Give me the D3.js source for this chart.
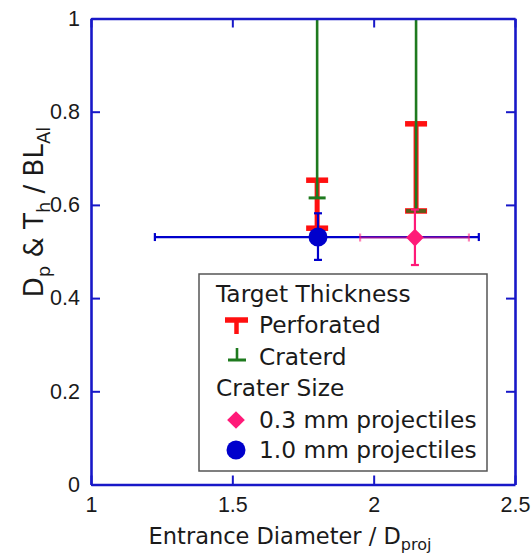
<!DOCTYPE html>
<html>
<head>
<meta charset="utf-8">
<script src="https://cdn.jsdelivr.net/npm/d3@7"></script>
<style>
  html, body { margin: 0; padding: 0; background: #fff; }
  svg { display: block; }
</style>
</head>
<body>
<svg id="chart" width="532" height="553"></svg>
<script>
// ---- data ----
const xTicks = [1, 1.5, 2, 2.5];
const yTicks = [0, 0.2, 0.4, 0.6, 0.8, 1];

// Target thickness: perforated ranges
const perfX = [1.80, 2.15];
const perfLow = [0.550, 0.587];
const perfHigh = [0.653, 0.774];

// Target thickness: cratered (lower bound, open upward)
const cratX = [1.80, 2.15];
const cratLow = [0.615, 0.587];
const cratHigh = [1.0, 1.0];

// Crater size points
const sizeNames = ["0.3 mm projectiles", "1.0 mm projectiles"];
const sizeX = [2.146, 1.803];
const sizeY = [0.530, 0.531];
const sizeXLow = [1.952, 1.226];
const sizeXHigh = [2.337, 2.372];
const sizeYLow = [0.471, 0.482];
const sizeYHigh = [0.590, 0.582];

// ---- setup ----
const svg = d3.select("#chart");
const m = {left: 91, right: 515, top: 18.5, bottom: 484.5};
const x = d3.scaleLinear().domain([1, 2.5]).range([m.left, m.right]);
const y = d3.scaleLinear().domain([0, 1]).range([m.bottom, m.top]);

const AXIS = "#1818c8";
const RED = "#ff1010";
const GREEN = "#1e7a1e";
const PINK = "#ff1a78";
const BLUE = "#0000cc";
const tickFont = "'Liberation Sans', Arial, sans-serif";
const textFont = "'DejaVu Sans', sans-serif";

const plot = svg.append("g");

// ---- perforated (red) ----
const perf = perfX.map((v, i) => ({x: v, lo: perfLow[i], hi: perfHigh[i]}));
plot.selectAll(".perf-line").data(perf).join("line")
  .attr("x1", d => x(d.x)).attr("x2", d => x(d.x))
  .attr("y1", d => y(d.lo)).attr("y2", d => y(d.hi))
  .attr("stroke", RED).attr("stroke-width", 5);
perf.forEach(d => {
  [d.lo, d.hi].forEach(v => {
    plot.append("line")
      .attr("x1", x(d.x) - 11).attr("x2", x(d.x) + 11)
      .attr("y1", y(v)).attr("y2", y(v))
      .attr("stroke", RED).attr("stroke-width", 5.5);
  });
});

// ---- cratered (green) ----
const crat = cratX.map((v, i) => ({x: v, lo: cratLow[i], hi: cratHigh[i]}));
plot.selectAll(".crat-line").data(crat).join("line")
  .attr("x1", d => x(d.x)).attr("x2", d => x(d.x))
  .attr("y1", d => y(d.lo)).attr("y2", d => y(d.hi))
  .attr("stroke", GREEN).attr("stroke-width", 2.6);
plot.selectAll(".crat-cap").data(crat).join("line")
  .attr("x1", (d, i) => x(d.x) - (i === 0 ? 8.5 : 10)).attr("x2", (d, i) => x(d.x) + (i === 0 ? 8.5 : 10))
  .attr("y1", d => y(d.lo)).attr("y2", d => y(d.lo))
  .attr("stroke", GREEN).attr("stroke-width", (d, i) => i === 0 ? 3 : 3.8)
  .attr("stroke-opacity", (d, i) => i === 0 ? 1 : 0.75);

// ---- crater size points with error bars ----
const pts = sizeNames.map((n, i) => ({
  name: n, x: sizeX[i], y: sizeY[i],
  xl: sizeXLow[i], xh: sizeXHigh[i], yl: sizeYLow[i], yh: sizeYHigh[i],
  color: i === 0 ? PINK : BLUE
}));

function errBars(d, opacityX) {
  const g = plot.append("g").attr("stroke", d.color);
  g.append("line")
    .attr("x1", x(d.xl)).attr("x2", x(d.xh)).attr("y1", y(d.y)).attr("y2", y(d.y))
    .attr("stroke-width", 2.2).attr("stroke-opacity", opacityX);
  [d.xl, d.xh].forEach(v => g.append("line")
    .attr("x1", x(v)).attr("x2", x(v)).attr("y1", y(d.y) - 4).attr("y2", y(d.y) + 4)
    .attr("stroke-width", 2.2).attr("stroke-opacity", opacityX));
  g.append("line")
    .attr("x1", x(d.x)).attr("x2", x(d.x)).attr("y1", y(d.yl)).attr("y2", y(d.yh))
    .attr("stroke-width", 2.2);
  [d.yl, d.yh].forEach(v => g.append("line")
    .attr("x1", x(d.x) - 4).attr("x2", x(d.x) + 4).attr("y1", y(v)).attr("y2", y(v))
    .attr("stroke-width", 2.2));
}
errBars(pts[1], 1);
errBars(pts[0], 0.55);

plot.append("circle")
  .attr("cx", x(pts[1].x)).attr("cy", y(pts[1].y)).attr("r", 9.5)
  .attr("fill", BLUE);
plot.append("path")
  .attr("d", d3.symbol(d3.symbolDiamond2, 200)())
  .attr("transform", `translate(${x(pts[0].x)},${y(pts[0].y)})`)
  .attr("fill", PINK);

// ---- axes ----
function styleAxis(g) {
  g.select(".domain").attr("stroke", AXIS).attr("stroke-width", 2.6);
  g.selectAll(".tick line").attr("stroke", AXIS).attr("stroke-width", 2);
  g.selectAll(".tick text").attr("fill", "#1a1a1a").style("font-family", tickFont).style("font-size", "21.5px");
}
const fmt = d => String(d);

svg.append("g").attr("transform", `translate(0,${m.bottom})`)
  .call(d3.axisBottom(x).tickValues(xTicks).tickFormat(fmt).tickSizeInner(-9).tickSizeOuter(0).tickPadding(12))
  .call(styleAxis);
svg.append("g").attr("transform", `translate(0,${m.top})`)
  .call(d3.axisTop(x).tickValues(xTicks).tickFormat("").tickSizeInner(-9).tickSizeOuter(0))
  .call(styleAxis);
svg.append("g").attr("transform", `translate(${m.left},0)`)
  .call(d3.axisLeft(y).tickValues(yTicks).tickFormat(fmt).tickSizeInner(-9).tickSizeOuter(0).tickPadding(11))
  .call(styleAxis);
svg.append("g").attr("transform", `translate(${m.right},0)`)
  .call(d3.axisRight(y).tickValues(yTicks).tickFormat("").tickSizeInner(-9).tickSizeOuter(0))
  .call(styleAxis);

// ---- axis titles ----
const xt = svg.append("text")
  .attr("x", 290).attr("y", 544)
  .attr("text-anchor", "middle")
  .style("font-family", textFont).style("font-size", "22.5px").attr("fill", "#1a1a1a");
xt.append("tspan").text("Entrance Diameter / D");
xt.append("tspan").text("proj").attr("dy", 6).style("font-size", "16px");

const yt = svg.append("text")
  .attr("transform", "translate(43,212) rotate(-90)")
  .attr("text-anchor", "middle")
  .style("font-family", textFont).style("font-size", "26px").attr("fill", "#1a1a1a");
yt.append("tspan").text("D");
yt.append("tspan").text("p").attr("dy", 7).style("font-size", "18px");
yt.append("tspan").text(" & T").attr("dy", -7);
yt.append("tspan").text("h").attr("dy", 7).style("font-size", "18px");
yt.append("tspan").text(" / BL").attr("dy", -7);
yt.append("tspan").text("Al").attr("dy", 7).style("font-size", "18px");

// ---- legend ----
const lg = svg.append("g");
lg.append("rect")
  .attr("x", 199).attr("y", 274).attr("width", 288).attr("height", 197)
  .attr("fill", "#fff").attr("stroke", "#555").attr("stroke-width", 1.5);

function ltext(tx, ty, s) {
  lg.append("text").attr("x", tx).attr("y", ty).text(s)
    .style("font-family", textFont).style("font-size", "23.3px").attr("fill", "#1a1a1a");
}
ltext(216, 302, "Target Thickness");
ltext(259, 333, "Perforated");
ltext(259, 365, "Craterd");
ltext(216, 396, "Crater Size");
ltext(259, 428, sizeNames[0]);
ltext(259, 458, sizeNames[1]);

// perforated symbol (T)
lg.append("line").attr("x1", 225).attr("x2", 248).attr("y1", 320).attr("y2", 320)
  .attr("stroke", RED).attr("stroke-width", 5.5);
lg.append("line").attr("x1", 236.5).attr("x2", 236.5).attr("y1", 320).attr("y2", 334)
  .attr("stroke", RED).attr("stroke-width", 4.5);
// cratered symbol (⊥)
lg.append("line").attr("x1", 228).attr("x2", 246).attr("y1", 360).attr("y2", 360)
  .attr("stroke", GREEN).attr("stroke-width", 3);
lg.append("line").attr("x1", 237).attr("x2", 237).attr("y1", 348).attr("y2", 360)
  .attr("stroke", GREEN).attr("stroke-width", 2.6);
// point symbols
lg.append("path")
  .attr("d", d3.symbol(d3.symbolDiamond2, 200)())
  .attr("transform", "translate(236,420)").attr("fill", PINK);
lg.append("circle").attr("cx", 236).attr("cy", 450).attr("r", 9.5).attr("fill", BLUE);
</script>
</body>
</html>
